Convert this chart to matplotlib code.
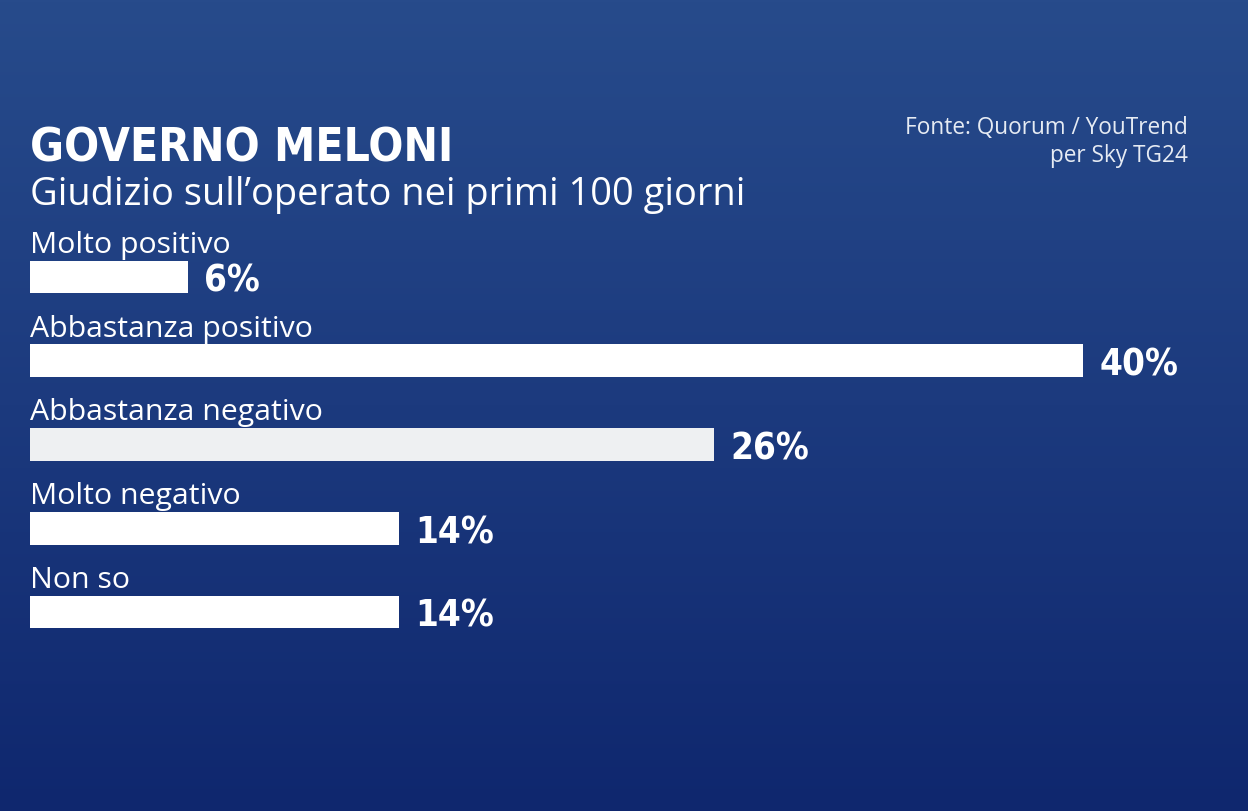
import numpy as np
import matplotlib.pyplot as plt
from matplotlib import font_manager as fm
from matplotlib.colors import LinearSegmentedColormap

# dati del sondaggio
categorie = ['Molto positivo', 'Abbastanza positivo', 'Abbastanza negativo',
             'Molto negativo', 'Non so']
valori = [6, 40, 26, 14, 14]
etichette = ['6%', '40%', '26%', '14%', '14%']
colori_barre = ['#ffffff', '#ffffff', '#eef0f2', '#ffffff', '#ffffff']

titolo = 'GOVERNO MELONI'
sottotitolo = 'Giudizio sull\u2019operato nei primi 100 giorni'
fonte = 'Fonte: Quorum / YouTrend\nper Sky TG24'

W, H = 1248, 812
fig = plt.figure(figsize=(W/100, H/100), dpi=100)
r = fig.canvas.get_renderer()

# cerca un font condensato grassetto, se c'e'
cond = None
for f in fm.fontManager.ttflist:
    n = (f.name + ' ' + f.fname).lower()
    if ('condensed' in n or 'narrow' in n) and f.weight in (600, 700, 800, 'bold') \
            and 'italic' not in n and 'oblique' not in n:
        cond = fm.FontProperties(fname=f.fname)
        break
if cond is None:
    cond = fm.FontProperties(family='DejaVu Sans', weight='bold')
corpo = fm.FontProperties(family=['Open Sans', 'DejaVu Sans'])


def adatta(t, larg, cap, peso=1.0):
    # sceglie la dimensione in base alla larghezza e all'altezza delle maiuscole
    s = t.get_fontsize()
    w = t.get_window_extent(r).width
    s_w = s * larg / w
    s_h = cap / (0.72 * 100 / 72)
    t.set_fontsize(s_w**peso * s_h**(1 - peso))
    return t.get_fontsize()


# sfondo sfumato blu
bg = fig.add_axes([0, 0, 1, 1])
bg.axis('off')
grad = np.linspace(0, 1, 256).reshape(-1, 1)
cmap = LinearSegmentedColormap.from_list('sky', ['#274b8b', '#1c3a7e', '#0f276e'])
bg.imshow(grad, aspect='auto', cmap=cmap, extent=[0, 1, 0, 1])

# assi: 0% a x=30px, 40% a x=1083px; barre ogni ~84px partendo da 278px
left = 30
px_pct = (1083 - left) / 40
passo, y0 = 83.75, 278
ax = fig.add_axes([left/W, 0, 1 - left/W, 1])
ax.set_facecolor('none')
ax.axis('off')
ax.set_xlim(0, (W - left) / px_pct)
ax.set_ylim((H - y0) / passo, -y0 / passo)

y = np.arange(len(categorie))
ax.barh(y, valori, height=0.394, color=colori_barre)

prova = ax.text(0, 0, '40%', fontproperties=cond, fontsize=30)
s_pct = adatta(prova, 72, 30, 0.6)
prova.remove()
prova = ax.text(0, 0, 'Molto positivo', fontproperties=corpo, fontsize=20)
s_cat = adatta(prova, 202, 21, 0.8)
prova.remove()

for i, (cat, v, lab) in enumerate(zip(categorie, valori, etichette)):
    ax.text(0, i - 0.30, cat, color='white', fontproperties=corpo, fontsize=s_cat,
            va='baseline', ha='left')
    ax.text(v + 0.62, i + 0.04, lab, color='white', fontproperties=cond,
            fontsize=s_pct, va='center', ha='left')

t = fig.text(30/W, 1 - 162/H, titolo, color='white', fontproperties=cond,
             fontsize=40, va='baseline')
adatta(t, 351, 44, 0.6)
t = fig.text(30/W, 1 - 205/H, sottotitolo, color='white', fontproperties=corpo,
             fontsize=26, va='baseline')
adatta(t, 718, 27, 0.8)
t = fig.text(1188/W, 1 - 162/H, fonte, color='#e6ebf3', fontproperties=corpo,
             fontsize=15, ha='right', va='baseline', multialignment='right',
             linespacing=1.2)
adatta(t, 280, 17, 0.8)

fig.savefig('out.png', dpi=100)
